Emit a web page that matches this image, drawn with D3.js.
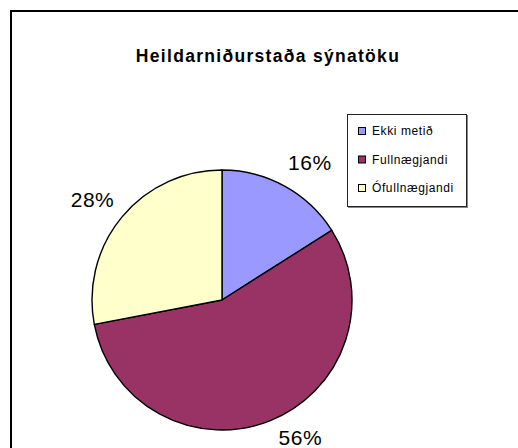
<!DOCTYPE html>
<html>
<head>
<meta charset="utf-8">
<script src="https://cdn.jsdelivr.net/npm/d3@7"></script>
<style>
  body { margin: 0; background: #fff; }
  svg { display: block; font-family: "Liberation Sans", Arial, sans-serif; }
</style>
</head>
<body>
<div id="chart"></div>
<script>
// Chart data
const chartTitle = "Heildarniðurstaða sýnatöku";
const categories = ["Ekki metið", "Fullnægjandi", "Ófullnægjandi"];
const shares = [16, 56, 28];
const sliceColours = ["#9999FF", "#993366", "#FFFFCC"];

class SamplePie {
  constructor(_config, _data) {
    this.config = {
      parentElement: _config.parentElement,
      containerWidth: _config.containerWidth,
      containerHeight: _config.containerHeight,
      center: { x: 222, y: 300 },
      radius: 130,
      labelRadius: 150,
    };
    this.data = _data;
    this.initVis();
  }

  initVis() {
    let vis = this;

    vis.svg = d3.select(vis.config.parentElement)
      .append("svg")
      .attr("width", vis.config.containerWidth)
      .attr("height", vis.config.containerHeight);

    // Outer chart frame (runs off the right and bottom edges)
    vis.svg.append("rect")
      .attr("x", 11)
      .attr("y", 11)
      .attr("width", 600)
      .attr("height", 600)
      .attr("fill", "none")
      .attr("stroke", "#000")
      .attr("stroke-width", 2);

    vis.svg.append("text")
      .attr("x", 268)
      .attr("y", 62)
      .attr("text-anchor", "middle")
      .style("font-size", "17.5px")
      .style("font-weight", "bold")
      .style("letter-spacing", "1.3px")
      .text(chartTitle);

    vis.colour = d3.scaleOrdinal().domain(categories).range(sliceColours);

    vis.pie = d3.pie().sort(null).value(d => d.value);
    vis.arc = d3.arc().innerRadius(0).outerRadius(vis.config.radius);

    vis.chart = vis.svg.append("g")
      .attr("transform", `translate(${vis.config.center.x},${vis.config.center.y})`);

    vis.renderVis();
    vis.renderLegend();
  }

  renderVis() {
    let vis = this;
    const arcs = vis.pie(vis.data);

    vis.chart.selectAll(".slice")
      .data(arcs)
      .join("path")
      .attr("class", "slice")
      .attr("d", vis.arc)
      .attr("fill", d => vis.colour(d.data.category))
      .attr("stroke", "#000")
      .attr("stroke-width", 1.4)
      .attr("stroke-linejoin", "round");

    // Labels sit outside the rim, pushed away from the pie by half their box
    const nudges = { "Ekki metið": [5, 0], "Fullnægjandi": [15, -9], "Ófullnægjandi": [3, 0] };
    const boxW = 44, boxH = 15;
    vis.chart.selectAll(".pct")
      .data(arcs)
      .join("text")
      .attr("class", "pct")
      .attr("text-anchor", "middle")
      .attr("dy", "0.36em")
      .style("font-size", "21px")
      .style("letter-spacing", "0.5px")
      .attr("x", d => {
        const a = (d.startAngle + d.endAngle) / 2;
        return Math.sin(a) * vis.config.labelRadius + Math.sin(a) * boxW / 2 + nudges[d.data.category][0];
      })
      .attr("y", d => {
        const a = (d.startAngle + d.endAngle) / 2;
        return -Math.cos(a) * vis.config.labelRadius - Math.cos(a) * boxH / 2 + nudges[d.data.category][1];
      })
      .text(d => `${d.data.value}%`);
  }

  renderLegend() {
    let vis = this;

    const legend = vis.svg.append("g")
      .attr("transform", "translate(347,114)");

    legend.append("rect")
      .attr("x", 1)
      .attr("y", 1)
      .attr("width", 120)
      .attr("height", 93)
      .attr("fill", "#888");

    legend.append("rect")
      .attr("x", 0.5)
      .attr("y", 0.5)
      .attr("width", 119)
      .attr("height", 92)
      .attr("fill", "#fff")
      .attr("stroke", "#222")
      .attr("stroke-width", 1);

    const y = d3.scalePoint().domain(categories).range([17, 74]);

    const items = legend.selectAll(".legend-item")
      .data(vis.data)
      .join("g")
      .attr("class", "legend-item")
      .attr("transform", d => `translate(0,${y(d.category)})`);

    items.append("rect")
      .attr("x", 11.5)
      .attr("y", -3.5)
      .attr("width", 7)
      .attr("height", 7)
      .attr("fill", d => vis.colour(d.category))
      .attr("stroke", "#000")
      .attr("stroke-width", 1);

    items.append("text")
      .attr("x", 25)
      .attr("dy", "0.36em")
      .style("font-size", "12px")
      .style("letter-spacing", "0.6px")
      .text(d => d.category);
  }
}

const data = categories.map((c, i) => ({ category: c, value: shares[i] }));

new SamplePie({
  parentElement: "#chart",
  containerWidth: 518,
  containerHeight: 448,
}, data);
</script>
</body>
</html>
